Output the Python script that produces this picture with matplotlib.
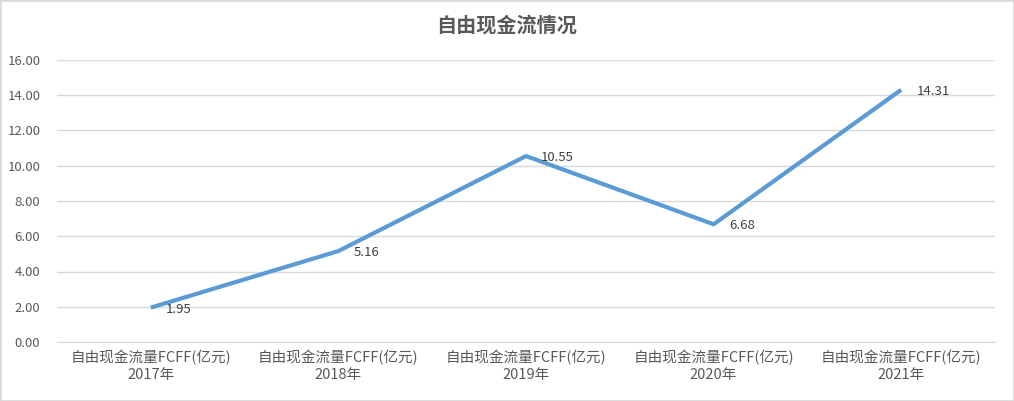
import matplotlib.pyplot as plt
from matplotlib.patches import Rectangle

plt.rcParams['font.family'] = ['Noto Sans CJK SC', 'DejaVu Sans']

# data
years = ['2017年', '2018年', '2019年', '2020年', '2021年']
series_name = '自由现金流量FCFF(亿元)'
fcff = [1.95, 5.16, 10.55, 6.68, 14.31]
yticks = [0, 2, 4, 6, 8, 10, 12, 14, 16]

labels = [series_name + '\n' + y for y in years]
x = list(range(len(years)))

fig = plt.figure(figsize=(10.14, 4.01), dpi=100)
ax = fig.add_axes([57/1014, 1 - 342/401, 938/1014, 282/401])

ax.plot(x, fcff, color='#5B9BD5', lw=3, solid_capstyle='butt', zorder=3)
for xi, v in zip(x, fcff):
    ax.annotate('%.2f' % v, (xi, v), xytext=(11, -1), textcoords='offset points',
                va='center', ha='left', fontsize=9.5, color='#404040')

ax.set_xlim(-0.5, len(years) - 0.5)
ax.set_ylim(0, 16)
ax.set_yticks(yticks)
ax.set_yticklabels(['%.2f' % t for t in yticks])
ax.set_xticks(x)
ax.set_xticklabels(labels, linespacing=1.25)
ax.tick_params(axis='both', length=0, labelsize=9.5, colors='#595959')
ax.tick_params(axis='x', pad=6, labelsize=10.5)
ax.tick_params(axis='y', pad=12)
ax.grid(axis='y', color='#D9D9D9', lw=1)
ax.set_axisbelow(True)
for s in ax.spines.values():
    s.set_visible(False)
ax.spines['bottom'].set_visible(True)
ax.spines['bottom'].set_color('#D9D9D9')

fig.text(0.5, 1 - 25/401, '自由现金流情况', ha='center', va='center',
         fontsize=14.5, fontweight='bold', color='#595959')

fig.patches.append(Rectangle((0, 0), 1, 1, transform=fig.transFigure,
                             fill=False, edgecolor='#D9D9D9', lw=2))

fig.savefig('out.png', dpi=100)
